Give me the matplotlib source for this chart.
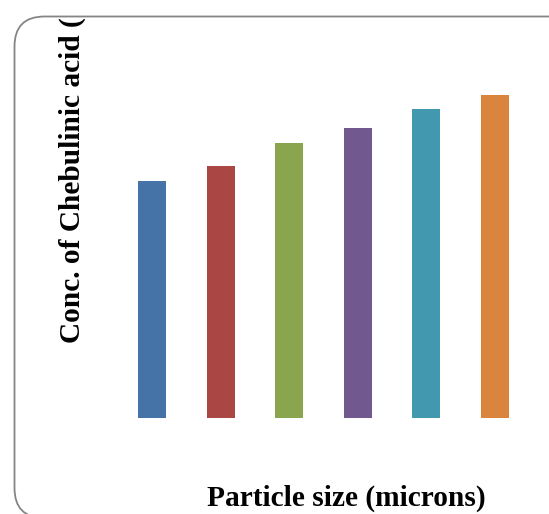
import matplotlib
matplotlib.use("Agg")
import matplotlib.pyplot as plt
from matplotlib.patches import FancyBboxPatch
from matplotlib.transforms import IdentityTransform

# particle size classes (no tick labels shown on the original)
categories = ["1", "2", "3", "4", "5", "6"]
conc = [23.7, 25.2, 27.5, 29.0, 30.9, 32.3]
colors = ["#4572A7", "#AA4643", "#89A54E", "#71588F", "#4198AF", "#DB843D"]

W, H = 549, 514
fig = plt.figure(figsize=(W / 100, H / 100), dpi=100)

# plot area in pixel terms
left, right = 117.7, 529.3
top, bottom = 17.5, 417.5
ax = fig.add_axes([left / W, 1 - bottom / H, (right - left) / W, (bottom - top) / H])
ax.bar(range(len(conc)), conc, width=0.41, color=colors)
ax.set_xlim(-0.5, len(conc) - 0.5)
ax.set_ylim(0, 40)
ax.axis("off")

# overlay for labels, pixel coords (y down), clipped just under the frame top
ov = fig.add_axes([0, 0, 1, (H - 17.5) / H], zorder=5)
ov.set_xlim(0, W)
ov.set_ylim(H, 17.5)
ov.axis("off")
ov.patch.set_alpha(0)

# rounded chart-area border, in display pixels (y up)
frame = FancyBboxPatch((14.5, H - 518), 566, 501.5,
                       boxstyle="round,pad=0,rounding_size=30",
                       facecolor="none", edgecolor="#858585", linewidth=1.3,
                       transform=IdentityTransform(), zorder=10)
fig.patches.append(frame)

font = dict(family="Liberation Serif", weight="bold", size=21.2)
ov.text(72, 343, "Conc. of Chebulinic acid (\u00b5g/ml)", rotation=90,
        ha="center", va="bottom", clip_on=True, **font)
ov.text(346, 506, "Particle size (microns)", ha="center", va="baseline", **font)

fig.savefig("out.png", dpi=100)
